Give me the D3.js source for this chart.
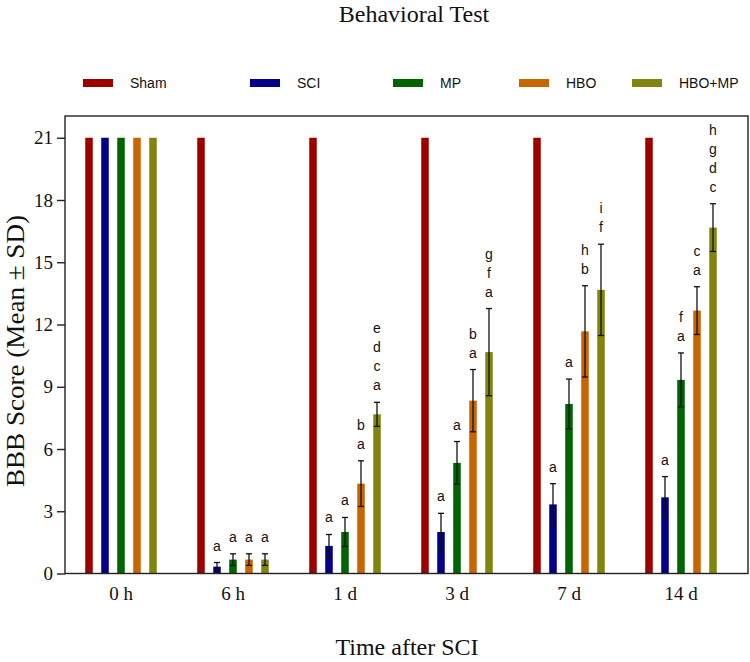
<!DOCTYPE html>
<html>
<head>
<meta charset="utf-8">
<script src="https://cdn.jsdelivr.net/npm/d3@7"></script>
<style>
  html, body { margin: 0; padding: 0; background: #fff; }
  svg { display: block; }
</style>
</head>
<body>
<svg id="chart" width="750" height="662"></svg>
<script>
// ---------- data ----------
const categories = ["0 h", "6 h", "1 d", "3 d", "7 d", "14 d"];
const seriesNames = ["Sham", "SCI", "MP", "HBO", "HBO+MP"];
const yTicks = [0, 3, 6, 9, 12, 15, 18, 21];

const shamMean  = [21, 21, 21, 21, 21, 21];
const sciMean   = [21, 0.33, 1.33, 2.0, 3.33, 3.67];
const mpMean    = [21, 0.67, 2.0, 5.33, 8.17, 9.33];
const hboMean   = [21, 0.67, 4.33, 8.33, 11.67, 12.67];
const hboMpMean = [21, 0.67, 7.67, 10.67, 13.67, 16.67];

const shamSD  = [0, 0, 0, 0, 0, 0];
const sciSD   = [0, 0.2, 0.55, 0.9, 1.0, 1.0];
const mpSD    = [0, 0.28, 0.7, 1.03, 1.2, 1.3];
const hboSD   = [0, 0.28, 1.1, 1.5, 2.2, 1.15];
const hboMpSD = [0, 0.28, 0.58, 2.1, 2.2, 1.15];

// significance letters, listed top to bottom
const shamLetters  = ["", "", "", "", "", ""];
const sciLetters   = ["", "a", "a", "a", "a", "a"];
const mpLetters    = ["", "a", "a", "a", "a", "f a"];
const hboLetters   = ["", "a", "b a", "b a", "h b", "c a"];
const hboMpLetters = ["", "a", "e d c a", "g f a", "i f", "h g d c"];

// ---------- styles / layout ----------
const colors = ["#9e0000", "#000088", "#006400", "#c96500", "#838310"];
const legendX = [83, 250, 393, 519, 632];
const serif = "'Liberation Serif', 'Times New Roman', serif";
const sans = "'Liberation Sans', Arial, sans-serif";

const means = [shamMean, sciMean, mpMean, hboMean, hboMpMean];
const sds = [shamSD, sciSD, mpSD, hboSD, hboMpSD];
const letters = [shamLetters, sciLetters, mpLetters, hboLetters, hboMpLetters];

const rows = [];
seriesNames.forEach((s, si) => {
  categories.forEach((c, ci) => {
    rows.push({ series: s, si, cat: c, mean: means[si][ci], sd: sds[si][ci], letters: letters[si][ci] });
  });
});

const svg = d3.select("#chart");

const frame = { left: 65, top: 116, right: 748, bottom: 573.5 };
const x0 = d3.scaleBand().domain(categories).range([65, 737]);
const x1 = d3.scaleBand().domain(seriesNames).range([-40, 40]).paddingInner(0.53).paddingOuter(0.265);
const y = d3.scaleLinear().domain([0, 22]).range([frame.bottom, 117]);

const cx = d => x0(d.cat) + x0.bandwidth() / 2 + x1(d.series) + x1.bandwidth() / 2;

// title
svg.append("text")
  .attr("x", 414).attr("y", 22)
  .attr("text-anchor", "middle")
  .style("font-family", serif).style("font-size", "24px").style("fill", "#111")
  .text("Behavioral Test");

// legend
const leg = svg.append("g");
seriesNames.forEach((s, i) => {
  leg.append("rect")
    .attr("x", legendX[i]).attr("y", 79)
    .attr("width", 30).attr("height", 8)
    .attr("fill", colors[i]);
  leg.append("text")
    .attr("x", legendX[i] + 47).attr("y", 88)
    .style("font-family", sans).style("font-size", "14px").style("fill", "#111")
    .text(s);
});

// bars
svg.append("g").selectAll("rect")
  .data(rows).join("rect")
  .attr("x", d => x0(d.cat) + x0.bandwidth() / 2 + x1(d.series))
  .attr("y", d => y(d.mean))
  .attr("width", x1.bandwidth())
  .attr("height", d => y(0) - y(d.mean))
  .attr("fill", d => colors[d.si]);

// error bars
const eb = svg.append("g").attr("stroke", "#111").attr("stroke-width", 1.3);
rows.filter(d => d.sd > 0).forEach(d => {
  const x = cx(d);
  eb.append("line").attr("x1", x).attr("x2", x).attr("y1", y(d.mean - d.sd)).attr("y2", y(d.mean + d.sd));
  eb.append("line").attr("x1", x - 3).attr("x2", x + 3).attr("y1", y(d.mean + d.sd)).attr("y2", y(d.mean + d.sd));
  eb.append("line").attr("x1", x - 3).attr("x2", x + 3).attr("y1", y(d.mean - d.sd)).attr("y2", y(d.mean - d.sd));
});

// letters
const lg = svg.append("g")
  .style("font-family", sans).style("font-size", "14px").style("fill", "#111")
  .attr("text-anchor", "middle");
rows.filter(d => d.letters).forEach(d => {
  const parts = d.letters.split(" ");
  const base = y(d.mean + d.sd) - 12;
  parts.forEach((p, k) => {
    lg.append("text")
      .attr("x", cx(d))
      .attr("y", base - (parts.length - 1 - k) * 19)
      .text(p);
  });
});

// frame
svg.append("rect")
  .attr("x", frame.left).attr("y", frame.top)
  .attr("width", frame.right - frame.left).attr("height", frame.bottom - frame.top)
  .attr("fill", "none").attr("stroke", "#222").attr("stroke-width", 1.4);

// y axis
const yAxis = svg.append("g")
  .attr("transform", `translate(${frame.left},0)`)
  .call(d3.axisLeft(y).tickValues(yTicks).tickSize(8).tickPadding(4));
yAxis.select(".domain").remove();
yAxis.selectAll("line").attr("stroke", "#222").attr("stroke-width", 1.4);
yAxis.selectAll("text").style("font-family", serif).style("font-size", "19px").attr("fill", "#111");

// x axis
const xAxis = svg.append("g")
  .attr("transform", `translate(0,${frame.bottom})`)
  .call(d3.axisBottom(x0).tickSize(0).tickPadding(13));
xAxis.select(".domain").remove();
xAxis.selectAll("text").style("font-family", serif).style("font-size", "19px").attr("fill", "#111");

// axis titles
svg.append("text")
  .attr("transform", "translate(24,351) rotate(-90)")
  .attr("text-anchor", "middle")
  .attr("textLength", 272).attr("lengthAdjust", "spacingAndGlyphs")
  .style("font-family", serif).style("font-size", "25px").style("fill", "#111")
  .text("BBB Score (Mean \u00b1 SD)");

svg.append("text")
  .attr("x", 407).attr("y", 655)
  .attr("text-anchor", "middle")
  .style("font-family", serif).style("font-size", "24px").style("fill", "#111")
  .text("Time after SCI");
</script>
</body>
</html>
